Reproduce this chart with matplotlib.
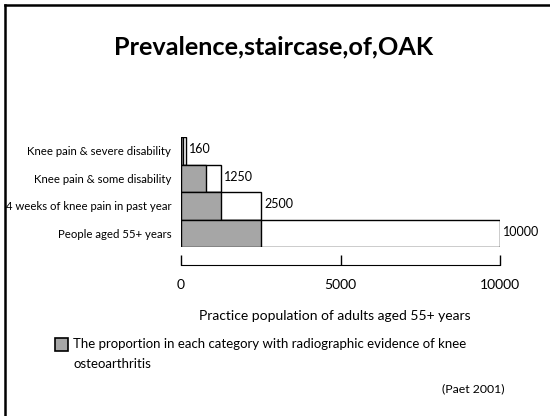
import matplotlib
matplotlib.use("Agg")
import matplotlib.pyplot as plt
from matplotlib.lines import Line2D
from matplotlib.patches import Rectangle

plt.rcParams['font.family'] = ['Lato', 'DejaVu Sans']

# categories from top of the staircase to the bottom
categories = ['Knee pain & severe disability', 'Knee pain & some disability',
              '4 weeks of knee pain in past year', 'People aged 55+ years']
totals = [160, 1250, 2500, 10000]
with_oa = [70, 780, 1250, 2500]
tick_vals = [0, 5000, 10000]

fig = plt.figure(figsize=(5.5, 4.16), dpi=100)

W, H = 550, 416
ax = fig.add_axes([181 / W, 1 - 247 / H, (500 - 181) / W, (247 - 137) / H])

y = list(range(len(categories)))
ax.barh(y, totals, height=1.0, color='white', edgecolor='black', linewidth=1)
ax.barh(y, with_oa, height=1.0, color='#a6a6a6', edgecolor='black', linewidth=1)
for yi, t in zip(y, totals):
    ax.text(t + 100, yi - 0.05, str(t), va='center', ha='left', fontsize=9)

ax.set_ylim(len(categories) - 0.5, -0.5)
ax.set_xlim(0, 10000)
ax.set_yticks(y, categories, fontsize=8.2)
ax.tick_params(axis='y', length=0, pad=7)
ax.set_xticks(tick_vals, [str(v) for v in tick_vals], fontsize=7.5)
ax.tick_params(axis='x', direction='in', length=7.5, width=1, pad=10)

for s in ['top', 'right', 'left']:
    ax.spines[s].set_visible(False)
ax.spines['bottom'].set_position(('outward', 13))
ax.spines['bottom'].set_bounds(0, 10000)
ax.set_facecolor('none')

fig.text(274 / W, 1 - 47 / H, 'Prevalence,staircase,of,OAK', ha='center', va='center',
         fontsize=18.2, fontweight='bold')
fig.text(335 / W, 1 - 316 / H, 'Practice population of adults aged 55+ years',
         ha='center', va='center', fontsize=10)

# legend swatch and its text
fig.patches.append(Rectangle((55 / W, 1 - 351 / H), 13 / W, 13 / H, transform=fig.transFigure,
                             facecolor='#a6a6a6', edgecolor='black', linewidth=1.2))
fig.text(73 / W, 1 - 344 / H, 'The proportion in each category with radiographic evidence of knee',
         ha='left', va='center', fontsize=9.5)
fig.text(73 / W, 1 - 364 / H, 'osteoarthritis', ha='left', va='center', fontsize=9.5)
fig.text(505 / W, 1 - 389 / H, '(Paet 2001)', ha='right', va='center', fontsize=8.8)

# slide frame along the top and left
fig.add_artist(Line2D([5 / W, 1], [1 - 5 / H, 1 - 5 / H], transform=fig.transFigure,
                      color='black', linewidth=1.8))
fig.add_artist(Line2D([5 / W, 5 / W], [0, 1 - 5 / H], transform=fig.transFigure,
                      color='black', linewidth=1.8))

fig.savefig('out.png', dpi=100)
